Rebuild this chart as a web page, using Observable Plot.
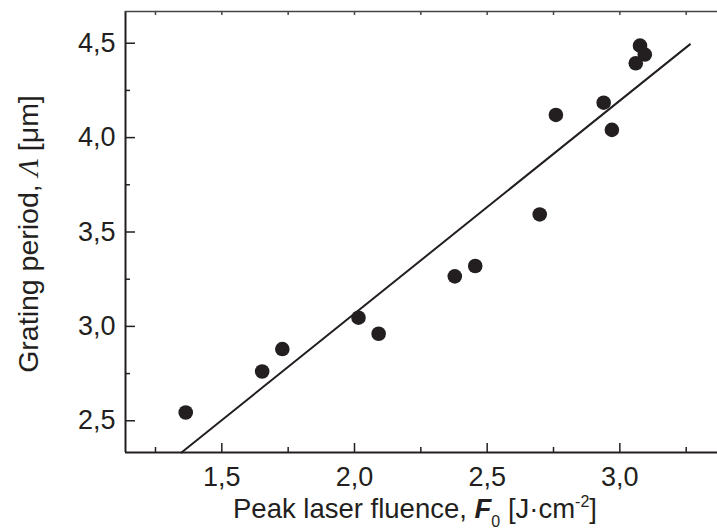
<!DOCTYPE html>
<html>
<head>
<meta charset="utf-8">
<script src="https://cdn.jsdelivr.net/npm/d3@7"></script>
<script src="https://cdn.jsdelivr.net/npm/@observablehq/plot@0.6"></script>
<style>
  html, body { margin: 0; padding: 0; background: #fff; }
  #chart svg { display: block; }
</style>
</head>
<body>
<div id="chart"></div>
<script>
// Measured data: peak laser fluence (J/cm^2) vs grating period (µm)
const fluence = [1.364, 1.652, 1.728, 2.015, 2.091, 2.378, 2.455, 2.698, 2.759, 2.939, 2.970, 3.060, 3.076, 3.094];
const period  = [2.544, 2.761, 2.880, 3.046, 2.961, 3.265, 3.320, 3.593, 4.120, 4.185, 4.041, 4.394, 4.487, 4.440];

// Linear fit line endpoints
const fitFluence = [1.348, 3.264];
const fitPeriod  = [2.332, 4.494];

// Axes
const xDomain = [1.137, 3.368];
const yDomain = [2.332, 4.668];
const xMajor = [1.5, 2.0, 2.5, 3.0];
const xMinor = [1.25, 1.75, 2.25, 2.75, 3.25];
const yMajor = [2.5, 3.0, 3.5, 4.0, 4.5];
const yMinor = [2.75, 3.25, 3.75, 4.25];

const ink = "#231f20";
const fmt = d => d.toFixed(1).replace(".", ",");
const blank = () => "";

const points = fluence.map((f, i) => ({f, p: period[i]}));
const fit = fitFluence.map((f, i) => ({f, p: fitPeriod[i]}));

const chart = Plot.plot({
  width: 717,
  height: 529,
  marginLeft: 125,
  marginRight: 0,
  marginTop: 11,
  marginBottom: 77,
  style: {fontFamily: "'Liberation Sans', Arial, sans-serif", fontSize: "27px", color: ink, background: "#fff"},
  x: {domain: xDomain, label: null},
  y: {domain: yDomain, label: null},
  marks: [
    // frame lines
    Plot.ruleX([xDomain[0]], {stroke: ink, strokeWidth: 2}),
    Plot.ruleY([yDomain[0]], {stroke: ink, strokeWidth: 2}),
    Plot.ruleY([yDomain[1]], {stroke: "#444", strokeWidth: 1.5}),
    // x ticks (inward)
    Plot.axisX({ticks: xMajor, tickSize: 9, dy: -9, tickFormat: blank, stroke: ink, strokeWidth: 1.5, label: null}),
    Plot.axisX({ticks: xMinor, tickSize: 5, dy: -5, tickFormat: blank, stroke: ink, strokeWidth: 1.5, label: null}),
    Plot.axisX({ticks: xMajor, tickSize: 0, tickPadding: 14, tickFormat: fmt, fill: ink, fontSize: 27, label: null}),
    // top mirrored small ticks
    Plot.axisX({anchor: "top", ticks: xMajor.concat(xMinor), tickSize: 3, dy: 3, tickFormat: blank, stroke: "#444", strokeWidth: 1.5, label: null}),
    // y ticks (inward)
    Plot.axisY({ticks: yMajor, tickSize: 10, dx: 10, tickFormat: blank, stroke: ink, strokeWidth: 1.5, label: null}),
    Plot.axisY({ticks: yMinor, tickSize: 5, dx: 5, tickFormat: blank, stroke: ink, strokeWidth: 1.5, label: null}),
    Plot.axisY({ticks: yMajor, tickSize: 0, tickPadding: 10, tickFormat: fmt, fill: ink, fontSize: 27, label: null}),
    // fit line
    Plot.line(fit, {x: "f", y: "p", stroke: ink, strokeWidth: 2}),
    // data points
    Plot.dot(points, {x: "f", y: "p", r: 7.3, fill: ink, stroke: "none"})
  ]
});

document.getElementById("chart").appendChild(chart);

// Axis titles with rich formatting
const svg = d3.select(chart);
const yl = svg.append("text")
  .attr("transform", "translate(38,234) rotate(-90)")
  .attr("text-anchor", "middle")
  .attr("fill", ink)
  .style("font-family", "'Liberation Sans', Arial, sans-serif")
  .style("font-size", "28.5px");
yl.append("tspan").text("Grating period, ");
yl.append("tspan").style("font-family", "'Liberation Serif', 'Times New Roman', serif").style("font-style", "italic").text("Λ");
yl.append("tspan").text(" [μm]");

const xl = svg.append("text")
  .attr("x", 415)
  .attr("y", 518)
  .attr("text-anchor", "middle")
  .attr("fill", ink)
  .style("font-family", "'Liberation Sans', Arial, sans-serif")
  .style("font-size", "27.5px");
xl.append("tspan").text("Peak laser fluence, ");
xl.append("tspan").style("font-style", "italic").style("font-weight", "bold").text("F");
xl.append("tspan").attr("dy", 9).style("font-size", "16px").text("0");
xl.append("tspan").attr("dy", -9).text(" [J·cm");
xl.append("tspan").attr("dy", -11).style("font-size", "16px").text("-2");
xl.append("tspan").attr("dy", 11).text("]");
</script>
</body>
</html>
